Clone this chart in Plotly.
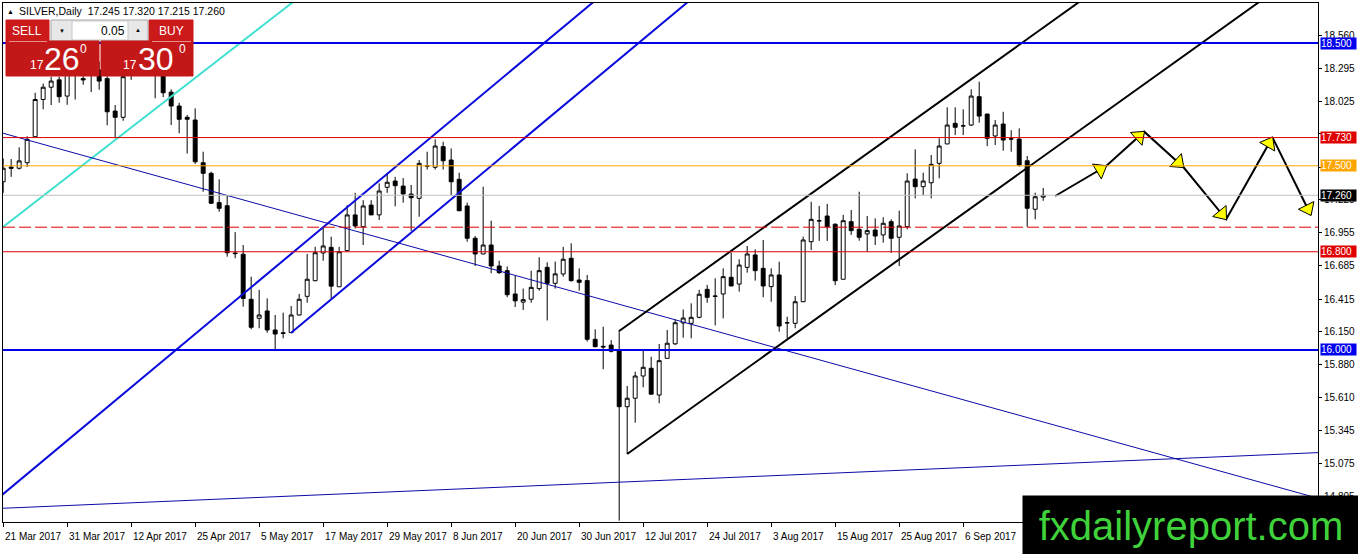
import math
import plotly.graph_objects as go

# ---- candle data (SILVER daily, bar index 0 = 21 Mar 2017) ----
opens = [17.37, 17.49, 17.48, 17.525, 17.737, 18.04, 18.14, 18.20, 18.068, 18.25,
         18.21, 18.30, 18.28, 18.21, 17.946, 17.895, 18.28, 18.35, 18.40, 18.30,
         18.30, 18.10, 17.987, 17.895, 17.873, 17.525, 17.439, 17.20, 17.175, 16.79,
         16.78, 16.413, 16.258, 16.318, 16.163, 16.14, 16.141, 16.285, 16.437, 16.564,
         16.79, 16.836, 16.515, 16.809, 17.10, 17.004, 17.18, 17.10, 17.325, 17.376,
         17.335, 17.27, 17.235, 17.50, 17.488, 17.656, 17.547, 17.39, 17.173, 16.91,
         16.782, 16.855, 16.684, 16.646, 16.456, 16.39, 16.413, 16.50, 16.673, 16.543,
         16.619, 16.747, 16.57, 16.565, 16.087, 16.03, 16.04, 16.00, 15.538, 15.607,
         15.788, 15.851, 15.633, 15.932, 16.05, 16.22, 16.217, 16.266, 16.494, 16.44,
         16.456, 16.592, 16.537, 16.673, 16.774, 16.665, 16.516, 16.611, 16.22, 16.217,
         16.393, 16.882, 17.05, 17.091, 17.024, 16.576, 17.045, 16.983, 16.945, 16.977,
         16.937, 17.045, 16.918, 17.004, 17.392, 17.33, 17.362, 17.52, 17.678, 17.846,
         17.824, 17.832, 18.063, 17.922, 17.743, 17.84, 17.72, 17.718, 17.541, 17.146,
         17.245]
highs = [17.56, 17.555, 17.65, 17.74, 18.095, 18.17, 18.226, 18.226, 18.30, 18.33,
         18.30, 18.38, 18.35, 18.25, 17.995, 18.30, 18.38, 18.45, 18.45, 18.35,
         18.35, 18.123, 18.014, 17.914, 17.968, 17.615, 17.452, 17.39, 17.254, 16.96,
         16.855, 16.597, 16.49, 16.42, 16.285, 16.304, 16.358, 16.456, 16.782, 16.841,
         17.00, 16.923, 16.84, 17.18, 17.28, 17.22, 17.22, 17.357, 17.439, 17.41,
         17.40, 17.344, 17.547, 17.615, 17.716, 17.696, 17.642, 17.444, 17.20, 16.928,
         17.33, 17.053, 16.727, 16.68, 16.605, 16.50, 16.646, 16.755, 16.714, 16.72,
         16.84, 16.869, 16.665, 16.611, 16.168, 16.19, 16.08, 16.163, 15.707, 15.823,
         15.994, 15.945, 16.049, 16.163, 16.25, 16.33, 16.38, 16.49, 16.53, 16.584,
         16.665, 16.792, 16.739, 16.847, 16.82, 16.896, 16.665, 16.719, 16.271, 16.44,
         16.923, 17.207, 17.173, 17.19, 17.032, 17.10, 17.14, 17.289, 17.091, 17.072,
         17.081, 17.064, 17.135, 17.439, 17.634, 17.444, 17.588, 17.724, 17.976, 17.976,
         17.96, 18.123, 18.185, 17.922, 17.873, 17.94, 17.79, 17.805, 17.58, 17.281,
         17.32]
lows = [17.28, 17.41, 17.47, 17.49, 17.73, 17.96, 17.995, 18.014, 17.997, 18.04,
        18.16, 18.10, 18.12, 17.83, 17.724, 17.867, 18.20, 18.25, 18.28, 18.05,
        18.06, 17.832, 17.765, 17.60, 17.515, 17.289, 17.19, 17.126, 16.76, 16.747,
        16.353, 16.168, 16.177, 16.14, 16.006, 16.095, 16.141, 16.28, 16.385, 16.56,
        16.727, 16.42, 16.515, 16.80, 16.99, 16.855, 17.10, 17.058, 17.28, 17.17,
        17.20, 16.97, 17.085, 17.47, 17.47, 17.47, 17.26, 17.134, 16.882, 16.684,
        16.78, 16.625, 16.619, 16.43, 16.35, 16.326, 16.385, 16.483, 16.24, 16.50,
        16.597, 16.556, 16.483, 16.068, 16.022, 15.843, 15.98, 14.61, 15.153, 15.408,
        15.696, 15.64, 15.566, 15.932, 16.04, 16.10, 16.095, 16.258, 16.385, 16.20,
        16.258, 16.521, 16.475, 16.63, 16.565, 16.429, 16.393, 16.149, 16.095, 16.177,
        16.39, 16.814, 16.888, 16.888, 16.529, 16.576, 16.937, 16.89, 16.80, 16.855,
        16.874, 16.792, 16.684, 16.983, 17.235, 17.262, 17.235, 17.398, 17.678, 17.75,
        17.75, 17.824, 17.851, 17.66, 17.669, 17.623, 17.615, 17.493, 17.004, 17.064,
        17.215]
closes = [17.48, 17.48, 17.54, 17.716, 18.04, 18.14, 18.19, 18.063, 18.26, 18.27,
          18.20, 18.25, 18.19, 17.94, 17.895, 18.226, 18.30, 18.40, 18.35, 18.25,
          18.095, 17.987, 17.879, 17.879, 17.533, 17.439, 17.195, 17.154, 16.792, 16.785,
          16.42, 16.185, 16.285, 16.163, 16.13, 16.135, 16.285, 16.413, 16.576, 16.792,
          16.847, 16.52, 16.80, 17.10, 17.01, 17.173, 17.10, 17.295, 17.366, 17.338,
          17.27, 17.24, 17.52, 17.498, 17.661, 17.541, 17.37, 17.134, 16.91, 16.782,
          16.855, 16.684, 16.63, 16.45, 16.40, 16.41, 16.51, 16.646, 16.543, 16.62,
          16.739, 16.565, 16.551, 16.087, 16.027, 16.025, 15.99, 15.538, 15.607, 15.788,
          15.859, 15.64, 15.913, 16.055, 16.222, 16.26, 16.266, 16.454, 16.429, 16.437,
          16.597, 16.521, 16.692, 16.782, 16.646, 16.521, 16.611, 16.195, 16.222, 16.393,
          16.896, 17.064, 17.053, 17.004, 16.564, 17.053, 16.972, 16.918, 16.972, 16.928,
          17.032, 16.91, 17.01, 17.376, 17.33, 17.376, 17.512, 17.661, 17.832, 17.814,
          17.826, 18.068, 17.905, 17.724, 17.832, 17.71, 17.718, 17.506, 17.154, 17.248,
          17.26]
bars = list(range(len(closes)))

# date axis labels (MT4 shows one every 8 bars)
date_labels = ["21 Mar 2017", "31 Mar 2017", "12 Apr 2017", "25 Apr 2017", "5 May 2017",
               "17 May 2017", "29 May 2017", "8 Jun 2017", "20 Jun 2017", "30 Jun 2017",
               "12 Jul 2017", "24 Jul 2017", "3 Aug 2017", "15 Aug 2017", "25 Aug 2017",
               "6 Sep 2017"]
date_bars = [0, 8, 16, 24, 32, 40, 48, 56, 64, 72, 80, 88, 96, 104, 112, 120]

price_ticks = [18.560, 18.295, 18.025, 17.760, 17.490, 17.225, 16.955, 16.685, 16.415,
               16.150, 15.880, 15.610, 15.345, 15.075, 14.805]
hidden_ticks = [17.760, 17.490]

# horizontal levels: (price, colour, width, dash)
levels = [
    (18.500, "#0000E6", 2, "solid"),
    (17.730, "#E00000", 1, "solid"),
    (17.500, "#FFA500", 1, "solid"),
    (17.260, "#C0C0C0", 1, "solid"),
    (17.000, "#E00000", 1, "12px,4px"),
    (16.800, "#E00000", 1, "solid"),
    (16.000, "#0000E6", 2, "solid"),
]
level_boxes = [(18.500, "#0000F0"), (17.730, "#E00000"), (17.500, "#FFA500"),
               (17.260, "#000000"), (16.800, "#E00000"), (16.000, "#0000F0")]

# trend lines: two anchor points (bar, price) each, extended
trend_lines = [
    dict(b=[0.04, 26.9], p=[17.004, 18.362], color="#40E0D0", width=2, ext=(-5, 45)),
    dict(b=[0, 73.625], p=[14.827, 18.826], color="#0A0ADC", width=2, ext=(-5, 80)),
    dict(b=[36, 73.0], p=[16.141, 18.151], color="#0A0ADC", width=2, ext=(36, 95)),
    dict(b=[0, 161.5], p=[17.765, 14.844], color="#0A0AA8", width=1, ext=(-5, 170)),
    dict(b=[0, 164.375], p=[14.711, 15.164], color="#0A0AA8", width=1, ext=(-5, 170)),
    dict(b=[77, 125], p=[16.155, 18.392], color="#000000", width=2, ext=(77, 150)),
    dict(b=[78, 126], p=[15.153, 17.390], color="#000000", width=2, ext=(78, 170)),
]

# projected path with arrows
path_bars = [131.5, 137.875, 142.625, 147.54, 152.875, 158.66, 163.46]
path_prices = [17.254, 17.498, 17.778, 17.488, 17.064, 17.732, 17.099]

# ---- geometry of the MT4 window ----
W, H = 1358, 554
PL, PR, PT, PB = 3, 1318, 3, 522
X0, X1 = -0.02, 164.35
Y0, Y1 = 14.599, 18.826
PX_BAR = (PR - PL) / (X1 - X0)
PX_PRICE = (PB - PT) / (Y1 - Y0)


def pxx(x):
    return (x - PL) / (PR - PL)


def pxy(y):
    return (PB - y) / (PB - PT)


fig = go.Figure()

fig.add_trace(go.Candlestick(
    x=bars, open=opens, high=highs, low=lows, close=closes,
    increasing=dict(fillcolor="white", line=dict(color="black", width=1)),
    decreasing=dict(fillcolor="black", line=dict(color="black", width=1)),
    whiskerwidth=0, showlegend=False, hoverinfo="skip",
))

for tl in trend_lines:
    b0, b1 = tl["b"]
    p0, p1 = tl["p"]
    slope = (p1 - p0) / (b1 - b0)
    e0, e1 = tl["ext"]
    fig.add_trace(go.Scatter(
        x=[e0, e1], y=[p0 + slope * (e0 - b0), p0 + slope * (e1 - b0)],
        mode="lines", line=dict(color=tl["color"], width=tl["width"]),
        showlegend=False, hoverinfo="skip",
    ))

# path + yellow arrow heads
fig.add_trace(go.Scatter(x=path_bars, y=path_prices, mode="lines",
                         line=dict(color="black", width=2),
                         showlegend=False, hoverinfo="skip"))
head_x, head_y, head_a = [], [], []
for k in range(len(path_bars) - 1):
    dx = (path_bars[k + 1] - path_bars[k]) * PX_BAR
    dy = -(path_prices[k + 1] - path_prices[k]) * PX_PRICE
    ln = math.hypot(dx, dy)
    back = 7.0
    head_x.append(path_bars[k + 1] - dx / ln * back / PX_BAR)
    head_y.append(path_prices[k + 1] + dy / ln * back / PX_PRICE)
    head_a.append(math.degrees(math.atan2(dx, -dy)))
fig.add_trace(go.Scatter(
    x=head_x, y=head_y, mode="markers",
    marker=dict(symbol="triangle-up", size=15, color="#FFFF00", angle=head_a,
                line=dict(color="black", width=1)),
    showlegend=False, hoverinfo="skip", cliponaxis=False,
))

shapes = []
for price, col, wd, dash in levels:
    shapes.append(dict(type="line", xref="paper", yref="y", x0=0, x1=1, y0=price, y1=price,
                       line=dict(color=col, width=wd, dash=dash), layer="above"))


def rect(x0, y0, x1, y1, fill, line=None):
    shapes.append(dict(type="rect", xref="paper", yref="paper",
                       x0=pxx(x0), x1=pxx(x1), y0=pxy(y0), y1=pxy(y1),
                       fillcolor=fill, line=dict(color=line or fill, width=1), layer="above"))


# one-click trading panel
rect(6, 20, 49, 41, "#CC1A1A")
rect(149, 20, 193, 41, "#CC1A1A")
rect(51, 20, 148, 41, "#E8E8E8", "#A8A8A8")
rect(72, 21, 128, 40, "#FFFFFF", "#C8C8C8")
rect(6, 41, 99, 76, "#C41818")
rect(101, 41, 193, 76, "#C41818")
for xa, xb in [(9, 47), (152, 191)]:
    shapes.append(dict(type="line", xref="paper", yref="paper", x0=pxx(xa), x1=pxx(xb),
                       y0=pxy(41.5), y1=pxy(41.5), line=dict(color="#E89090", width=1),
                       layer="above"))

FONT = "Liberation Sans"
ann = []


def text(x, y, s, size, color="black", xanchor="center", yanchor="middle"):
    ann.append(dict(x=pxx(x), y=pxy(y), xref="paper", yref="paper", text=s, showarrow=False,
                    xanchor=xanchor, yanchor=yanchor, borderpad=0,
                    font=dict(family=FONT, size=size, color=color)))


text(10, 11, "▲", 7)
text(18, 11, "SILVER,Daily  17.245 17.320 17.215 17.260", 10.5, xanchor="left")
text(27.5, 31, "SELL", 12, "white")
text(171, 31, "BUY", 12, "white")
text(126, 30.5, "0.05", 12, xanchor="right")
text(61.5, 31, "▼", 6)
text(138, 30, "▲", 6)
text(37, 65, "17", 12, "white")
text(62, 59, "26", 32, "white")
text(83, 49, "0", 12, "white")
text(130, 65, "17", 12, "white")
text(156, 59, "30", 32, "white")
text(182, 49, "0", 12, "white")

# date labels, left aligned at their tick like MT4
for b, lab in zip(date_bars, date_labels):
    ann.append(dict(x=b, y=pxy(536), xref="x", yref="paper", text=lab, showarrow=False,
                    xanchor="left", yanchor="middle", xshift=1, borderpad=0,
                    font=dict(family=FONT, size=10, color="black")))

# price boxes on the axis
for price, col in level_boxes:
    ann.append(dict(x=pxx(1320), y=price, xref="paper", yref="y", text="%.3f" % price,
                    showarrow=False, xanchor="left", yanchor="middle", bgcolor=col,
                    width=35, height=11, borderpad=0, align="left",
                    font=dict(family=FONT, size=10, color="white")))

# watermark
ann.append(dict(x=pxx(1022), y=pxy(495), xref="paper", yref="paper", xanchor="left",
                yanchor="top", text="fxdailyreport.com", showarrow=False, bgcolor="black",
                width=336, height=59, borderpad=0,
                font=dict(family=FONT, size=40, color="#3FD23A")))

fig.update_layout(
    width=W, height=H,
    margin=dict(l=PL, r=W - PR, t=PT, b=H - PB, pad=0, autoexpand=False),
    paper_bgcolor="white", plot_bgcolor="white",
    showlegend=False,
    shapes=shapes, annotations=ann,
    xaxis=dict(range=[X0, X1], rangeslider=dict(visible=False), showgrid=False,
               zeroline=False, showline=True, mirror=True, linecolor="black", linewidth=1,
               ticks="outside", ticklen=4, tickcolor="black", tickvals=date_bars,
               showticklabels=False, fixedrange=True),
    yaxis=dict(range=[Y0, Y1], side="right", showgrid=False, zeroline=False,
               showline=True, mirror=True, linecolor="black", linewidth=1,
               ticks="outside", ticklen=3, tickcolor="black",
               tickvals=price_ticks,
               ticktext=["" if t in hidden_ticks else "%.3f" % t for t in price_ticks],
               tickfont=dict(family=FONT, size=10, color="black"), fixedrange=True),
)

fig.write_html("out.html", config={"displayModeBar": False},
               post_script="document.body.style.margin='0';")
